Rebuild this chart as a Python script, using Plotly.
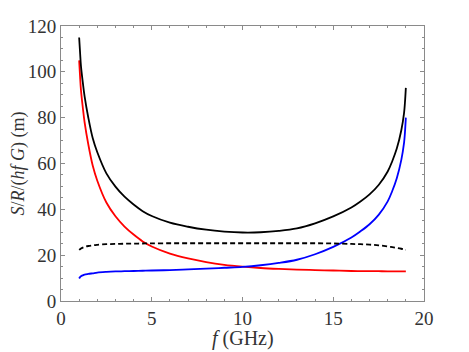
import plotly.graph_objects as go

# Frequency grid (GHz)
freq = [1.0, 1.05, 1.1, 1.2, 1.3, 1.5, 1.75, 2.0, 2.5, 3.0, 3.5, 4.0, 4.5, 5.0, 6.0, 7.0, 8.0, 9.0,
        10.0, 11.0, 12.0, 13.0, 14.0, 15.0, 16.0, 16.5, 17.0, 17.5, 18.0, 18.25, 18.5, 18.75, 18.9, 18.95, 19.0]

red_vals = [105, 98, 92, 84.5, 78, 68.5, 59, 52.5, 43, 37, 32.5, 29, 26, 23.8, 20.7, 18.6, 17, 15.8,
            15, 14.4, 14, 13.7, 13.5, 13.3, 13.1, 13.05, 13, 13, 12.95, 12.9, 12.9, 12.9, 12.9, 12.9, 12.9]

blue_vals = [9.8, 10.4, 10.8, 11.2, 11.5, 11.8, 12.1, 12.4, 12.7, 12.9, 13.0, 13.1, 13.2, 13.3, 13.5, 13.8, 14.1, 14.5,
             14.9, 15.6, 16.6, 18.0, 20.4, 23.6, 27.7, 30.4, 33.5, 37.6, 43.5, 48, 53.6, 61.6, 69, 73.5, 80]

black_vals = [115, 108.5, 102.5, 95.5, 89.3, 80.2, 71, 64.9, 55.7, 49.9, 45.5, 42.1, 39.2, 37.1, 34.2, 32.4, 31.1, 30.3,
              29.9, 30.0, 30.6, 31.7, 33.9, 36.9, 40.8, 43.4, 46.5, 50.6, 56.5, 61, 66.5, 74.5, 82, 86.5, 93]

dashed_vals = [22.3, 22.6, 22.9, 23.3, 23.6, 24.0, 24.3, 24.5, 24.8, 24.9, 25.0, 25.05, 25.1, 25.15, 25.2, 25.2, 25.2, 25.2,
               25.2, 25.2, 25.2, 25.2, 25.2, 25.1, 24.9, 24.8, 24.6, 24.3, 23.8, 23.5, 23.2, 22.8, 22.5, 22.4, 22.3]

x_ticks = [0, 5, 10, 15, 20]
y_ticks = [0, 20, 40, 60, 80, 100, 120]

x_title = "<i>f</i> (GHz)"
y_title = "<i>S</i>/<i>R</i>/(<i>hf G</i>) (m)"

SERIF = "Liberation Serif, Times New Roman, DejaVu Serif, serif"
TXT = "#333333"
AX = "#8a8a8a"

fig = go.Figure()
fig.add_trace(go.Scatter(x=freq, y=red_vals, mode="lines", line=dict(color="#ff0000", width=1.8, shape="spline")))
fig.add_trace(go.Scatter(x=freq, y=blue_vals, mode="lines", line=dict(color="#0000ff", width=1.8, shape="spline")))
fig.add_trace(go.Scatter(x=freq, y=black_vals, mode="lines", line=dict(color="#000000", width=1.8, shape="spline")))
fig.add_trace(go.Scatter(x=freq, y=dashed_vals, mode="lines",
                         line=dict(color="#000000", width=1.8, dash="5px,3px", shape="spline")))

axis_common = dict(
    showgrid=False, zeroline=False, showline=True, linecolor=AX, linewidth=1,
    mirror="ticks", ticks="inside", ticklen=4, tickwidth=1, tickcolor=AX,
    tickfont=dict(family=SERIF, size=19, color=TXT), automargin=False,
)

fig.update_xaxes(range=[0, 20], tickvals=x_ticks, ticktext=[str(v) for v in x_ticks],
                 minor=dict(dtick=1, ticks="inside", ticklen=2, tickcolor=AX, showgrid=False),
                 **axis_common)
fig.update_yaxes(range=[0, 120], tickvals=y_ticks, ticktext=[str(v) for v in y_ticks],
                 minor=dict(dtick=5, ticks="inside", ticklen=2, tickcolor=AX, showgrid=False),
                 title=dict(text=y_title, font=dict(family=SERIF, size=18, color=TXT), standoff=6),
                 **axis_common)

fig.add_annotation(text=x_title, xref="paper", yref="paper", x=0.5, y=0, xanchor="center",
                   yanchor="middle", yshift=-37, showarrow=False,
                   font=dict(family=SERIF, size=20, color=TXT))

fig.update_layout(
    width=461, height=344, showlegend=False,
    margin=dict(l=53, r=45, t=18, b=51),
    plot_bgcolor="white", paper_bgcolor="white",
)

fig.write_html("out.html")
